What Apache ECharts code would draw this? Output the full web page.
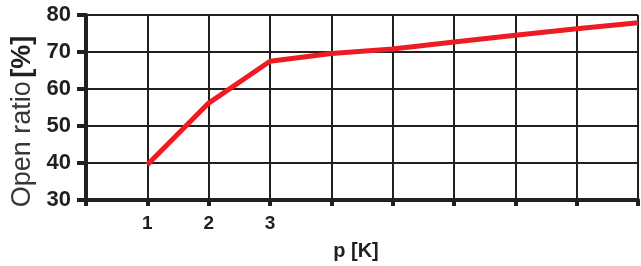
<!DOCTYPE html>
<html>
<head>
<meta charset="utf-8">
<script src="https://cdn.jsdelivr.net/npm/echarts@6/dist/echarts.min.js"></script>
<style>
  html, body { margin: 0; padding: 0; background: #fff; }
  #chart { width: 641px; height: 266px; }
</style>
</head>
<body>
<div id="chart"></div>
<script>
// p [K] values and the open ratio
var pValues = [1, 2, 3, 4, 5, 6, 7, 8, 9];
var openRatio = [39.5, 56.2, 67.5, 69.6, 70.8, 72.7, 74.5, 76.3, 77.9];
var xLabels = ['1', '2', '3'];   // only these are printed under the axis

var ink = '#231f20';
var chart = echarts.init(document.getElementById('chart'));

chart.setOption({
  animation: false,
  grid: { left: 86, top: 15, right: 0, bottom: 66 },
  xAxis: {
    type: 'value',
    min: 0,
    max: 9,
    interval: 1,
    name: 'p [K]',
    nameLocation: 'middle',
    nameGap: 41,
    nameTextStyle: {
      fontFamily: 'Liberation Sans', fontWeight: 'bold', fontSize: 20,
      color: ink, padding: [0, 12, 0, 0]
    },
    axisLine: { lineStyle: { color: ink, width: 4 } },
    axisTick: { length: 6, lineStyle: { color: ink, width: 4 } },
    axisLabel: {
      margin: 14,
      fontFamily: 'Liberation Sans', fontWeight: 'bold', fontSize: 19, color: ink,
      formatter: function (v) {
        return xLabels.indexOf(String(v)) >= 0 ? String(v) : '';
      }
    },
    splitLine: { show: true, lineStyle: { color: ink, width: 2 } }
  },
  yAxis: {
    type: 'value',
    min: 30,
    max: 80,
    interval: 10,
    name: '{a|Open ratio} {b|[%]}',
    nameLocation: 'middle',
    nameRotate: 90,
    nameGap: 49,
    nameTextStyle: {
      padding: [0, 0, 0, -28],
      rich: {
        a: { fontFamily: 'Liberation Sans', fontSize: 27, color: '#3a3637' },
        b: { fontFamily: 'Liberation Sans', fontWeight: 'bold', fontSize: 27, color: ink }
      }
    },
    axisLine: { show: true, lineStyle: { color: ink, width: 4 } },
    axisTick: { show: true, length: 9, lineStyle: { color: ink, width: 4 } },
    axisLabel: {
      margin: 15,
      fontFamily: 'Liberation Sans', fontWeight: 'bold', fontSize: 22, color: ink
    },
    splitLine: { show: true, lineStyle: { color: ink, width: 2 } }
  },
  series: [{
    type: 'line',
    data: pValues.map(function (p, i) { return [p, openRatio[i]]; }),
    symbol: 'none',
    lineStyle: { color: '#ed1c24', width: 5 }
  }]
});
</script>
</body>
</html>
